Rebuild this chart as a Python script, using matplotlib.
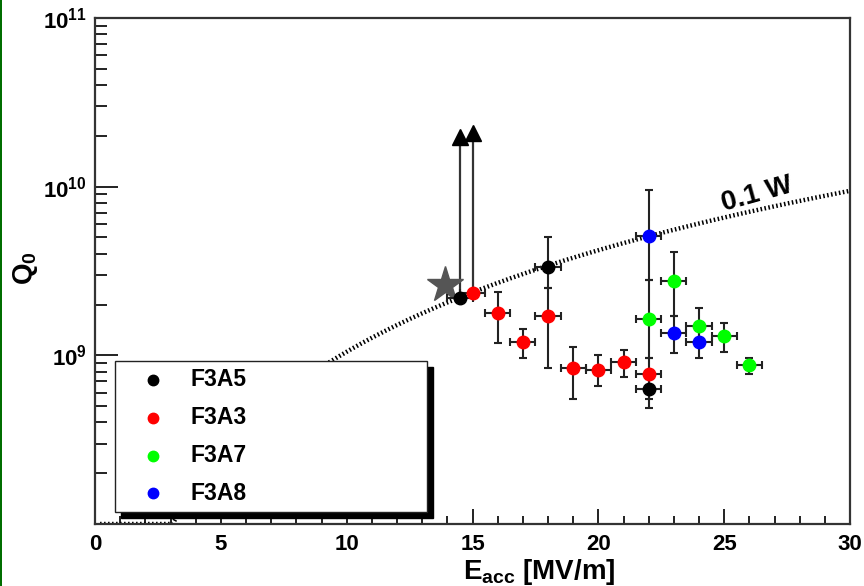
import numpy as np
import matplotlib
matplotlib.use("Agg")
import matplotlib.pyplot as plt
from matplotlib.patches import Rectangle
from matplotlib.ticker import LogLocator, NullFormatter, MultipleLocator

plt.rcParams['font.family'] = ['Liberation Sans', 'DejaVu Sans']
plt.rcParams['font.weight'] = 'bold'
plt.rcParams['mathtext.fontset'] = 'custom'
plt.rcParams['mathtext.rm'] = 'Liberation Sans:bold'
plt.rcParams['mathtext.it'] = 'Liberation Sans:bold'
plt.rcParams['mathtext.bf'] = 'Liberation Sans:bold'
plt.rcParams['mathtext.sf'] = 'Liberation Sans:bold'

# ---- measurements: Eacc [MV/m], Q0, lower / upper error bounds ----
e_f3a5 = [14.5, 18.0, 22.0]
q_f3a5 = [2.2e9, 3.35e9, 6.3e8]
lo_f3a5 = [2.2e9, 2.5e9, 4.9e8]
hi_f3a5 = [2.2e9, 5.0e9, 7.2e8]

e_f3a3 = [15.0, 16.0, 17.0, 18.0, 19.0, 20.0, 21.0, 22.0]
q_f3a3 = [2.35e9, 1.78e9, 1.2e9, 1.7e9, 8.4e8, 8.2e8, 9.1e8, 7.8e8]
lo_f3a3 = [2.35e9, 1.18e9, 0.96e9, 0.84e9, 5.5e8, 6.6e8, 7.4e8, 5.5e8]
hi_f3a3 = [2.35e9, 2.36e9, 1.44e9, 2.5e9, 1.12e9, 1.0e9, 1.08e9, 9.6e8]

e_f3a7 = [22.0, 23.0, 24.0, 25.0, 26.0]
q_f3a7 = [1.65e9, 2.75e9, 1.5e9, 1.3e9, 8.8e8]
lo_f3a7 = [0.96e9, 1.72e9, 1.2e9, 1.04e9, 7.7e8]
hi_f3a7 = [2.8e9, 4.1e9, 1.9e9, 1.55e9, 9.7e8]

e_f3a8 = [22.0, 23.0, 24.0]
q_f3a8 = [5.1e9, 1.35e9, 1.2e9]
lo_f3a8 = [2.8e9, 1.03e9, 0.96e9]
hi_f3a8 = [9.5e9, 1.72e9, 1.45e9]

e_err = 0.5  # half-width of the field bins

# lower-limit arrows (start value, limit value)
arrow_e = [14.5, 15.0]
arrow_start = [2.2e9, 2.35e9]
arrow_limit = [1.98e10, 2.09e10]

# reference star
star_e = [13.9]
star_q = [2.62e9]

# constant dissipated power curve: Q0 = k * Eacc^2
power_label = "0.1 W"
k_power = 1.05e7

series = [
    ("F3A5", e_f3a5, q_f3a5, lo_f3a5, hi_f3a5, "#000000"),
    ("F3A3", e_f3a3, q_f3a3, lo_f3a3, hi_f3a3, "#ff0000"),
    ("F3A7", e_f3a7, q_f3a7, lo_f3a7, hi_f3a7, "#00ff00"),
    ("F3A8", e_f3a8, q_f3a8, lo_f3a8, hi_f3a8, "#0000ff"),
]

W, H = 864, 586
fig = plt.figure(figsize=(W / 100, H / 100), dpi=100)
ax = fig.add_axes([95 / W, 62 / H, 755 / W, 506 / H])
ax.set_yscale('log')
ax.set_xlim(0, 30)
ax.set_ylim(1e8, 1e11)

# power curve (values below the frame are held on the lower edge)
ymin = 1e8
e_curve = np.linspace(0.2, 30, 800)
q_curve = np.clip(k_power * e_curve ** 2, ymin, None)
ax.plot(e_curve, q_curve, color='black', lw=3.2, ls=(0, (0.35, 0.55)),
        zorder=2, solid_capstyle='butt', dash_capstyle='butt')
ax.text(26.3, 9.0e9, power_label, fontsize=20, fontweight='bold',
        rotation=15.5, ha='center', va='center', zorder=3)

# lower-limit arrows
for ea, qs, ql in zip(arrow_e, arrow_start, arrow_limit):
    ax.plot([ea, ea], [qs, ql], color='#333333', lw=1.6, zorder=3)
    ax.plot([ea], [ql], marker='^', color='black', ms=12, zorder=4,
            linestyle='none')

# star
ax.plot(star_e, star_q, marker='*', color='#555555', ms=27,
        linestyle='none', zorder=4)

# data with error bars
for name, e, q, lo, hi, col in series:
    q = np.array(q)
    yerr = [q - np.array(lo), np.array(hi) - q]
    ax.errorbar(e, q, xerr=e_err, yerr=yerr, fmt='none', ecolor='#222222',
                elinewidth=1.5, capsize=3.2, capthick=1.5, zorder=5)
    ax.plot(e, q, 'o', color=col, ms=9, zorder=6, linestyle='none')

# axes styling
for sp in ax.spines.values():
    sp.set_linewidth(1.6)
    sp.set_color('#333333')

ax.xaxis.set_minor_locator(MultipleLocator(1))
ax.yaxis.set_minor_locator(LogLocator(base=10, subs=np.arange(2, 10)))
ax.yaxis.set_minor_formatter(NullFormatter())
ax.set_yticks([1e8, 1e9, 1e10, 1e11])
ax.set_yticklabels(['', r'$10^{9}$', r'$10^{10}$', r'$10^{11}$'])
ax.set_xticks([0, 5, 10, 15, 20, 25, 30])
ax.set_xticklabels(['0', '5', '10', '15', '20', '25', '30'])

ax.tick_params(axis='x', which='major', direction='in', length=11, width=1.4,
               labelsize=16, pad=7, top=False, color='#222222')
ax.tick_params(axis='x', which='minor', direction='in', length=6, width=1.4,
               top=False, color='#222222')
ax.tick_params(axis='y', which='major', direction='in', length=16.5, width=1.4,
               labelsize=16, pad=6, right=False, color='#222222')
ax.tick_params(axis='y', which='minor', direction='in', length=8.6, width=1.4,
               right=False, color='#222222')
for lab in ax.get_xticklabels() + ax.get_yticklabels():
    lab.set_fontweight('bold')

# axis titles
fig.text(463 / W, 1 - 579 / H, r'E$_{\mathrm{acc}}$ [MV/m]', fontsize=20,
         fontweight='bold', ha='left', va='baseline')
fig.text(25 / W, 1 - 268 / H, r'Q$_{0}$', fontsize=20, fontweight='bold',
         rotation=90, ha='center', va='center')

# legend box with shadow
lx0, ly0 = (115 - 95) / 755, (524 - 512) / 506
lw_, lh_ = (427 - 115) / 755, (512 - 361) / 506
sx, sy = 6 / 755, 6 / 506
ax.add_patch(Rectangle((lx0 + sx, ly0 - sy), lw_, lh_, transform=ax.transAxes,
                       facecolor='black', edgecolor='black', zorder=9,
                       clip_on=False))
ax.add_patch(Rectangle((lx0, ly0), lw_, lh_, transform=ax.transAxes,
                       facecolor='white', edgecolor='#222222', lw=1.0,
                       zorder=10, clip_on=False))
entry_y = [(524 - 380) / 506, (524 - 418) / 506, (524 - 456) / 506,
           (524 - 493) / 506]
for (name, *_rest, col), yy in zip(series, entry_y):
    ax.plot([(153 - 95) / 755], [yy], 'o', color=col, ms=7.5,
            transform=ax.transAxes, zorder=11, clip_on=False)
    ax.text((190 - 95) / 755, yy, name, transform=ax.transAxes, fontsize=16.5,
            fontweight='bold', va='center', ha='left', zorder=11)

# left border strip
fig.add_artist(Rectangle((0, 0), 2 / W, 1, transform=fig.transFigure,
                         facecolor='#006e00', edgecolor='none'))

fig.savefig('out.png', dpi=100)
